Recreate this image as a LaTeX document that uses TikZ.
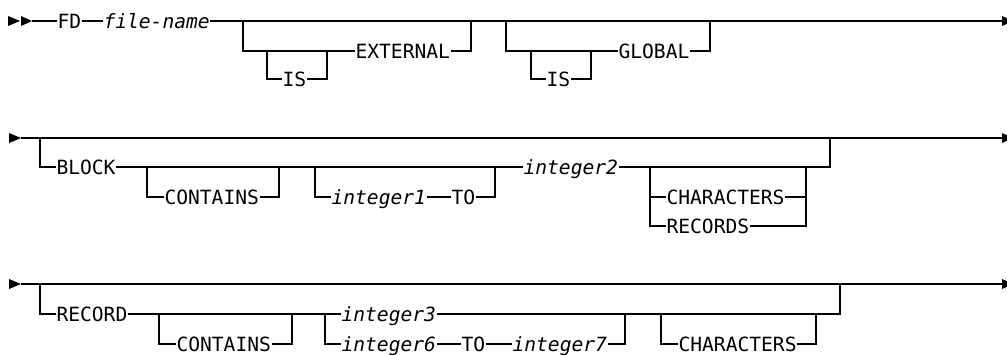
\documentclass[tikz,border=0pt]{standalone}
\usepackage{fontspec}
\newfontfamily\rrfont{DejaVu Sans Mono}
\begin{document}
\begin{tikzpicture}[x=1pt,y=-1pt,line width=1.1pt,
  kw/.style={inner sep=0pt,anchor=base west,font=\rrfont\fontsize{19.6}{20}\selectfont},
  var/.style={kw,font=\rrfont\itshape\fontsize{19.6}{20}\selectfont},
  tipshape/.style={fill=black,draw=none}]
\useasboundingbox (0,0) rectangle (1007,354);
% ---------- row 1 ----------
\fill[tipshape] (8,16) -- (8,26) -- (20,21) -- cycle;
\fill[tipshape] (21,16) -- (21,26) -- (32,21) -- cycle;
\fill[tipshape] (1002,16) -- (1002,26) -- (1013,21) -- cycle;
\coordinate (r1s) at (32,21);
\coordinate (r1e) at (1002,21);
\node[kw]  (FD)   at (57,28)  {FD};
\node[var] (fn)   at (103,28) {file-name};
\node[kw]  (ext)  at (355,58) {EXTERNAL};
\node[kw]  (is1)  at (282,86) {IS};
\node[kw]  (is2)  at (546,86) {IS};
\node[kw]  (glob) at (618,58) {GLOBAL};
\coordinate (b1a) at (243,21); \coordinate (b1b) at (243,51);
\coordinate (b1c) at (267,51); \coordinate (b1d) at (267,79);
\coordinate (b1e) at (327,79); \coordinate (b1f) at (327,51);
\coordinate (b1g) at (471,51); \coordinate (b1h) at (471,21);
\coordinate (b2a) at (506,21); \coordinate (b2b) at (506,51);
\coordinate (b2c) at (531,51); \coordinate (b2d) at (531,79);
\coordinate (b2e) at (591,79); \coordinate (b2f) at (591,51);
\coordinate (b2g) at (710,51); \coordinate (b2h) at (710,21);
\draw (r1s) -- (FD.west |- r1s);
\draw (FD.east |- r1s) -- (fn.west |- r1s);
\draw (fn.east |- r1s) -- (r1e);
\draw (b1a) -- (b1b) -- (ext.west |- b1b);
\draw (b1c) -- (b1d) -- (is1.west |- b1d);
\draw (is1.east |- b1d) -- (b1e) -- (b1f);
\draw (ext.east |- b1g) -- (b1g) -- (b1h);
\draw (b2a) -- (b2b) -- (glob.west |- b2b);
\draw (b2c) -- (b2d) -- (is2.west |- b2d);
\draw (is2.east |- b2d) -- (b2e) -- (b2f);
\draw (glob.east |- b2g) -- (b2g) -- (b2h);
% ---------- row 2 ----------
\fill[tipshape] (9,133) -- (9,143) -- (21,138) -- cycle;
\fill[tipshape] (1002,133) -- (1002,143) -- (1013,138) -- cycle;
\coordinate (r2s) at (21,138);
\coordinate (r2e) at (1002,138);
\node[kw]  (block) at (56,174)  {BLOCK};
\node[kw]  (cont2) at (164,204) {CONTAINS};
\node[var] (int1)  at (331,204) {integer1};
\node[kw]  (to2)   at (451,204) {TO};
\node[var] (int2)  at (523,174) {integer2};
\node[kw]  (char2) at (666,204) {CHARACTERS};
\node[kw]  (recs)  at (666,233) {RECORDS};
\coordinate (c1a) at (40,138);  \coordinate (c1b) at (40,167);
\coordinate (c2a) at (147,167); \coordinate (c2b) at (147,197);
\coordinate (c2c) at (279,197); \coordinate (c2d) at (279,167);
\coordinate (c3a) at (315,167); \coordinate (c3b) at (315,197);
\coordinate (c3c) at (495,197); \coordinate (c3d) at (495,167);
\coordinate (c4a) at (650,167); \coordinate (c4b) at (650,226);
\coordinate (c4c) at (806,197); \coordinate (c4d) at (806,226);
\coordinate (c4e) at (806,167);
\coordinate (c1c) at (830,167); \coordinate (c1d) at (830,138);
\draw (r2s) -- (r2e);
\draw (c1a) -- (c1b) -- (block.west |- c1b);
\draw (block.east |- c1b) -- (int2.west |- c1b);
\draw (c2a) -- (c2b) -- (cont2.west |- c2b);
\draw (cont2.east |- c2c) -- (c2c) -- (c2d);
\draw (c3a) -- (c3b) -- (int1.west |- c3b);
\draw (int1.east |- c3b) -- (to2.west |- c3b);
\draw (to2.east |- c3c) -- (c3c) -- (c3d);
\draw (int2.east |- c1c) -- (c1c) -- (c1d);
\draw (c4a) -- (c4b) -- (recs.west |- c4b);
\draw (c4a |- c4c) -- (char2.west |- c4c);
\draw (char2.east |- c4c) -- (c4c);
\draw (recs.east |- c4d) -- (c4d) -- (c4e);
% ---------- row 3 ----------
\fill[tipshape] (9,279) -- (9,289) -- (21,284) -- cycle;
\fill[tipshape] (1002,279) -- (1002,289) -- (1013,284) -- cycle;
\coordinate (r3s) at (21,284);
\coordinate (r3e) at (1002,284);
\node[kw]  (rec)   at (56,321)  {RECORD};
\node[kw]  (cont3) at (176,351) {CONTAINS};
\node[var] (int3)  at (341,321) {integer3};
\node[var] (int6)  at (341,351) {integer6};
\node[kw]  (to3)   at (461,351) {TO};
\node[var] (int7)  at (512,351) {integer7};
\node[kw]  (char3) at (678,351) {CHARACTERS};
\coordinate (d1a) at (40,284);  \coordinate (d1b) at (40,314);
\coordinate (d2a) at (159,314); \coordinate (d2b) at (159,344);
\coordinate (d2c) at (292,344); \coordinate (d2d) at (292,314);
\coordinate (d3a) at (325,314); \coordinate (d3b) at (325,344);
\coordinate (d3c) at (625,344); \coordinate (d3d) at (625,314);
\coordinate (d4a) at (661,314); \coordinate (d4b) at (661,344);
\coordinate (d4c) at (816,344); \coordinate (d4d) at (816,314);
\coordinate (d1c) at (840,314); \coordinate (d1d) at (840,284);
\draw (r3s) -- (r3e);
\draw (d1a) -- (d1b) -- (rec.west |- d1b);
\draw (rec.east |- d1b) -- (int3.west |- d1b);
\draw (d2a) -- (d2b) -- (cont3.west |- d2b);
\draw (cont3.east |- d2c) -- (d2c) -- (d2d);
\draw (d3a) -- (d3b) -- (int6.west |- d3b);
\draw (int6.east |- d3b) -- (to3.west |- d3b);
\draw (to3.east |- d3b) -- (int7.west |- d3b);
\draw (int7.east |- d3c) -- (d3c) -- (d3d);
\draw (int3.east |- d1c) -- (d1c) -- (d1d);
\draw (d4a) -- (d4b) -- (char3.west |- d4b);
\draw (char3.east |- d4c) -- (d4c) -- (d4d);
\end{tikzpicture}
\end{document}
